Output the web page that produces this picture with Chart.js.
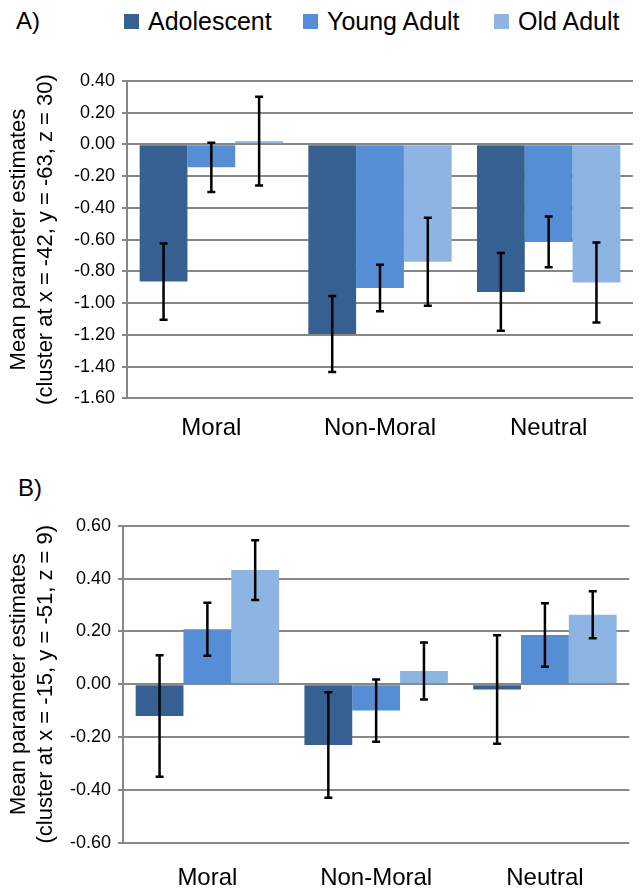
<!DOCTYPE html>
<html>
<head>
<meta charset="utf-8">
<script src="https://cdn.jsdelivr.net/npm/chart.js@4.4.1/dist/chart.umd.min.js"></script>
<style>
  body { margin: 0; background: #fff; font-family: 'Liberation Sans', Arial, sans-serif; overflow: hidden; }
  .panel { position: absolute; left: 0; width: 642px; }
  .tag { position: absolute; font-size: 24px; line-height: 1; color: #000; }
  .leg { position: absolute; top: 9px; font-size: 25px; line-height: 1; color: #000; white-space: nowrap; }
  .leg i { position: absolute; left: -24px; top: 5px; width: 15px; height: 15px; }
</style>
</head>
<body>
<div class="tag" style="left:16px;top:9px">A)</div>
<div id="legend"></div>
<div class="panel" style="top:0;height:452px"><canvas id="chart-a"></canvas></div>
<div class="tag" style="left:18px;top:476px">B)</div>
<div class="panel" style="top:455px;height:441px"><canvas id="chart-b"></canvas></div>

<script>
const categories = ['Moral', 'Non-Moral', 'Neutral'];
const seriesNames = ['Adolescent', 'Young Adult', 'Old Adult'];
const seriesColors = ['#376092', '#558ed5', '#8db4e2'];

// panel A: cluster at x = -42, y = -63, z = 30
const adolescentA = [-0.865, -1.195, -0.93];
const youngA = [-0.145, -0.905, -0.615];
const oldA = [0.02, -0.74, -0.87];
const adolescentErrA = [0.24, 0.24, 0.245];
const youngErrA = [0.155, 0.147, 0.16];
const oldErrA = [0.28, 0.277, 0.252];
const yTicksA = [0.4, 0.2, 0, -0.2, -0.4, -0.6, -0.8, -1.0, -1.2, -1.4, -1.6];

// panel B: cluster at x = -15, y = -51, z = 9
const adolescentB = [-0.12, -0.23, -0.02];
const youngB = [0.208, -0.1, 0.186];
const oldB = [0.432, 0.05, 0.263];
const adolescentErrB = [0.23, 0.2, 0.205];
const youngErrB = [0.1, 0.118, 0.12];
const oldErrB = [0.113, 0.108, 0.089];
const yTicksB = [0.6, 0.4, 0.2, 0, -0.2, -0.4, -0.6];

const FONT = "'Liberation Sans', Arial, sans-serif";
const GRID = '#878787';

// legend (sits above panel A, offset to the right like the original)
const legendX = [148, 327, 518];
seriesNames.forEach((name, i) => {
    let item = document.createElement('div');
    item.className = 'leg';
    item.style.left = legendX[i] + 'px';
    item.innerHTML = `<i style="background:${seriesColors[i]}"></i>${name}`;
    document.getElementById('legend').appendChild(item);
});

const errorBars = {
    id: 'errorBars',
    afterDatasetsDraw(chart) {
        const ctx = chart.ctx;
        const y = chart.scales.y;
        ctx.save();
        ctx.strokeStyle = '#000';
        ctx.lineWidth = 2.5;
        chart.data.datasets.forEach((ds, i) => {
            chart.getDatasetMeta(i).data.forEach((bar, j) => {
                const top = y.getPixelForValue(ds.data[j] + ds.errors[j]);
                const bot = y.getPixelForValue(ds.data[j] - ds.errors[j]);
                ctx.beginPath();
                ctx.moveTo(bar.x, top); ctx.lineTo(bar.x, bot);
                ctx.moveTo(bar.x - 4, top); ctx.lineTo(bar.x + 4, top);
                ctx.moveTo(bar.x - 4, bot); ctx.lineTo(bar.x + 4, bot);
                ctx.stroke();
            });
        });
        ctx.restore();
    }
};

function makeChart(id, values, errors, yTicks, titleLine2, opts) {
    const datasets = seriesNames.map((name, i) => ({
        label: name,
        data: values[i],
        errors: errors[i],
        backgroundColor: seriesColors[i],
        borderWidth: 0,
        barPercentage: 1,
        categoryPercentage: 0.85
    }));

    return new Chart(document.getElementById(id), {
        type: 'bar',
        data: { labels: categories, datasets: datasets },
        plugins: [errorBars],
        options: {
            responsive: true,
            maintainAspectRatio: false,
            animation: false,
            layout: { padding: opts.padding },
            plugins: { legend: { display: false }, tooltip: { enabled: false } },
            scales: {
                x: {
                    grid: { display: false, drawTicks: false },
                    border: { display: false },
                    ticks: { color: '#000', padding: opts.xPad, font: { family: FONT, size: 24 } },
                    afterFit: s => { s.height = 45; }
                },
                y: {
                    min: yTicks[yTicks.length - 1],
                    max: yTicks[0],
                    afterBuildTicks: s => { s.ticks = yTicks.map(v => ({ value: v })); },
                    grid: { color: GRID, lineWidth: 2, tickLength: 5, tickColor: GRID },
                    border: { color: GRID, width: 2 },
                    ticks: {
                        color: '#000',
                        padding: 7,
                        font: { family: FONT, size: 18 },
                        callback: v => v.toFixed(2)
                    },
                    title: {
                        display: true,
                        text: ['Mean parameter estimates', titleLine2],
                        color: '#000',
                        padding: { top: 6, bottom: 0 },
                        font: { family: FONT, size: 22, lineHeight: 1.2 }
                    },
                    afterFit: s => { s.width = opts.yWidth; }
                }
            }
        }
    });
}

makeChart('chart-a', [adolescentA, youngA, oldA], [adolescentErrA, youngErrA, oldErrA], yTicksA,
    '(cluster at x = -42, y = -63, z = 30)',
    { padding: { top: 80.8, right: 9, bottom: 8.7, left: 0 }, yWidth: 127, xPad: 16 });

makeChart('chart-b', [adolescentB, youngB, oldB], [adolescentErrB, youngErrB, oldErrB], yTicksB,
    '(cluster at x = -15, y = -51, z = 9)',
    { padding: { top: 70.7, right: 12.7, bottom: 8.3, left: 0 }, yWidth: 123, xPad: 21 });
</script>
</body>
</html>
